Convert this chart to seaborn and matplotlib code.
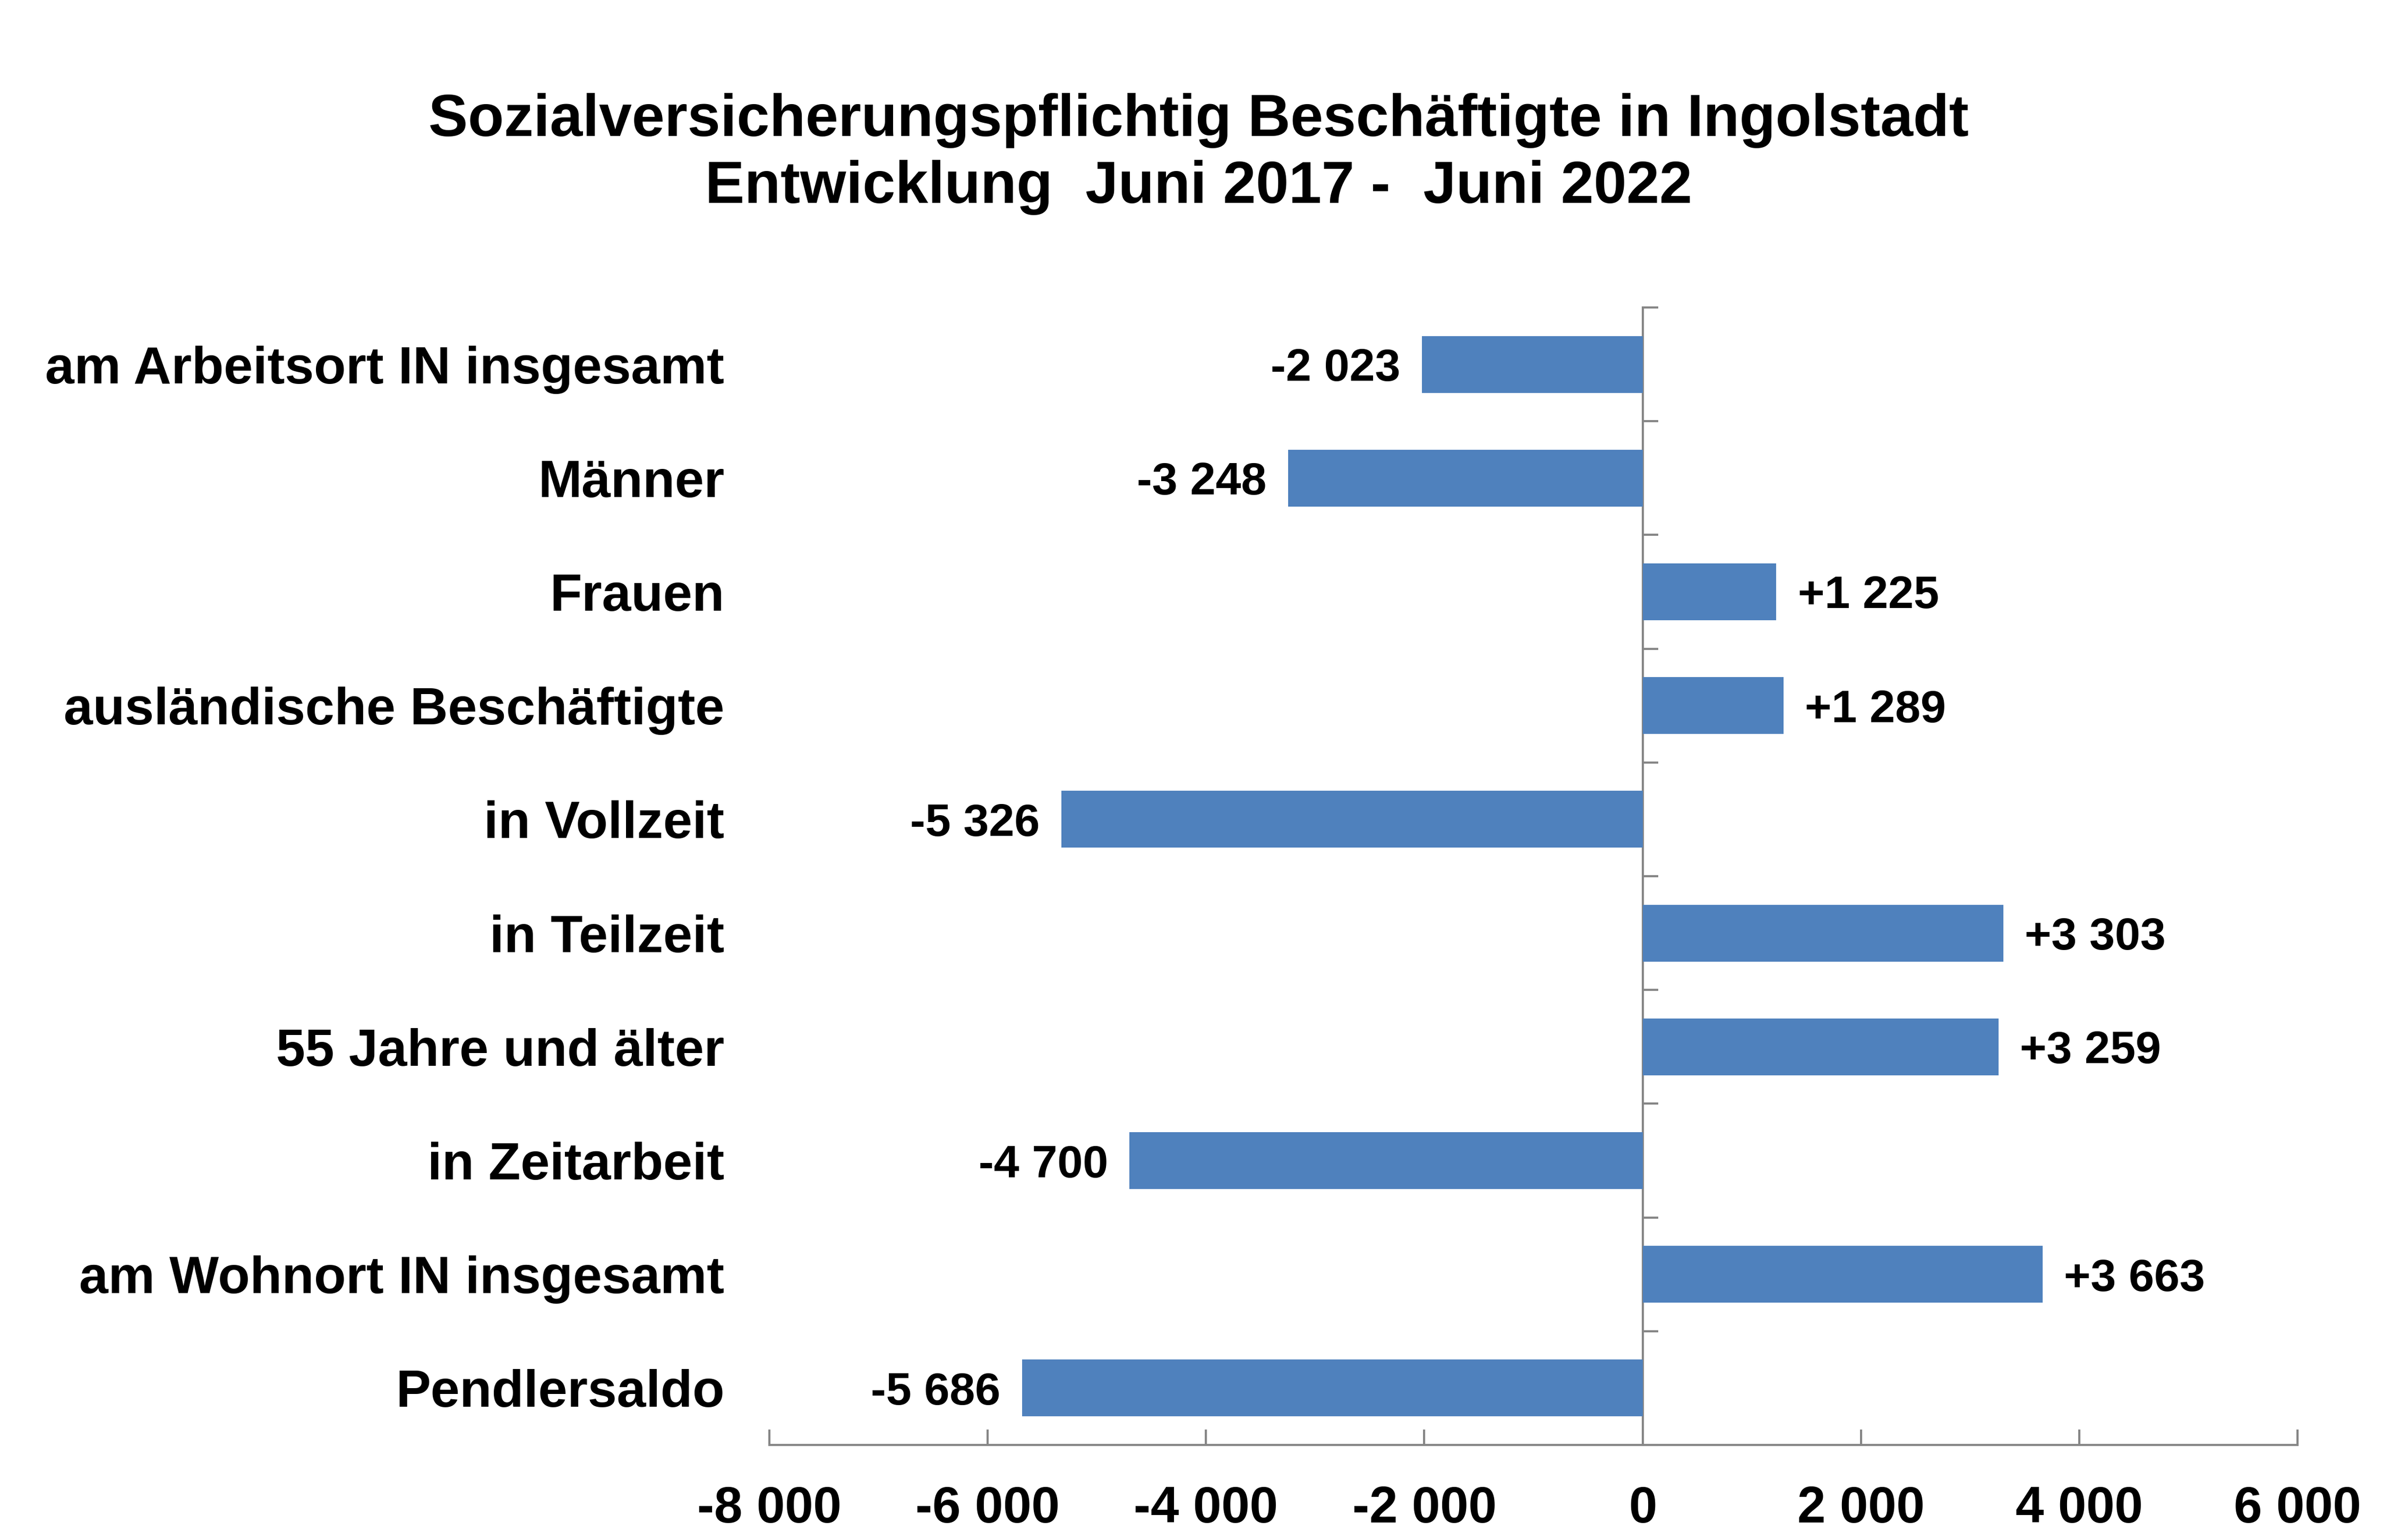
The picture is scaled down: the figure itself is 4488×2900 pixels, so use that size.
import matplotlib
matplotlib.use("Agg")
import matplotlib.pyplot as plt
import seaborn as sns
import pandas as pd

categories = [
    "am Arbeitsort IN insgesamt",
    "Männer",
    "Frauen",
    "ausländische Beschäftigte",
    "in Vollzeit",
    "in Teilzeit",
    "55 Jahre und älter",
    "in Zeitarbeit",
    "am Wohnort IN insgesamt",
    "Pendlersaldo",
]
values = [-2023, -3248, 1225, 1289, -5326, 3303, 3259, -4700, 3663, -5686]
x_ticks = [-8000, -6000, -4000, -2000, 0, 2000, 4000, 6000]
title = "Sozialversicherungspflichtig Beschäftigte in Ingolstadt\nEntwicklung  Juni 2017 -  Juni 2022"

def fmt_thousands(v, sign=False):
    s = f"{v:+,}" if sign else f"{v:,}"
    return s.replace(",", " ")

sns.set_theme(style="white")
plt.rcParams["font.family"] = ["Liberation Sans", "DejaVu Sans"]
plt.rcParams["text.color"] = "black"
plt.rcParams["axes.labelcolor"] = "black"

W, H = 4488, 2900
DPI = 100
fig = plt.figure(figsize=(W / DPI, H / DPI), dpi=DPI)
left, right, top, bottom = 1449, 4327, 579, 2721
ax = fig.add_axes([left / W, 1 - bottom / H, (right - left) / W, (bottom - top) / H])

df = pd.DataFrame({"cat": categories, "val": values})
sns.barplot(data=df, x="val", y="cat", orient="h", color="#4F81BD", saturation=1,
            width=0.5, ax=ax, linewidth=0)

grey = "#868686"
ax.set_xlim(x_ticks[0], x_ticks[-1])
ax.set_ylim(len(categories) - 0.5, -0.5)
ax.set_xticks(x_ticks)
ax.set_xticklabels([fmt_thousands(t) for t in x_ticks], fontsize=69, fontweight="bold")
ax.tick_params(axis="x", bottom=True, direction="in", length=21, width=2.9, color=grey,
               pad=55, labelcolor="black")
ax.tick_params(axis="y", left=False, length=0, pad=61, labelcolor="black")
for lab in ax.get_yticklabels():
    lab.set_fontsize(71)
    lab.set_fontweight("bold")
ax.set_xlabel("")
ax.set_ylabel("")

for side in ["left", "right", "top"]:
    ax.spines[side].set_visible(False)
ax.spines["bottom"].set_color(grey)
ax.spines["bottom"].set_linewidth(2.9)

# zero axis with category boundary ticks
zero_frac = (0 - x_ticks[0]) / (x_ticks[-1] - x_ticks[0])
sec = ax.secondary_yaxis(zero_frac)
sec.set_yticks([i - 0.5 for i in range(len(categories) + 1)])
sec.set_yticklabels([])
sec.tick_params(axis="y", right=True, direction="out", length=21, width=2.9, color=grey)
for side in ["left", "right"]:
    sec.spines[side].set_color(grey)
    sec.spines[side].set_linewidth(2.9)

value_texts = ax.bar_label(ax.containers[0],
                           labels=[fmt_thousands(v, sign=True) for v in values],
                           padding=29, fontsize=62, fontweight="bold", color="black")
for t in value_texts:
    t.set_va("center_baseline")

fig.text(0.503, 0.900, title, ha="center", va="center", fontsize=80,
         fontweight="bold", linespacing=1.26, color="black")

fig.savefig("out.png", dpi=DPI, facecolor="white")
